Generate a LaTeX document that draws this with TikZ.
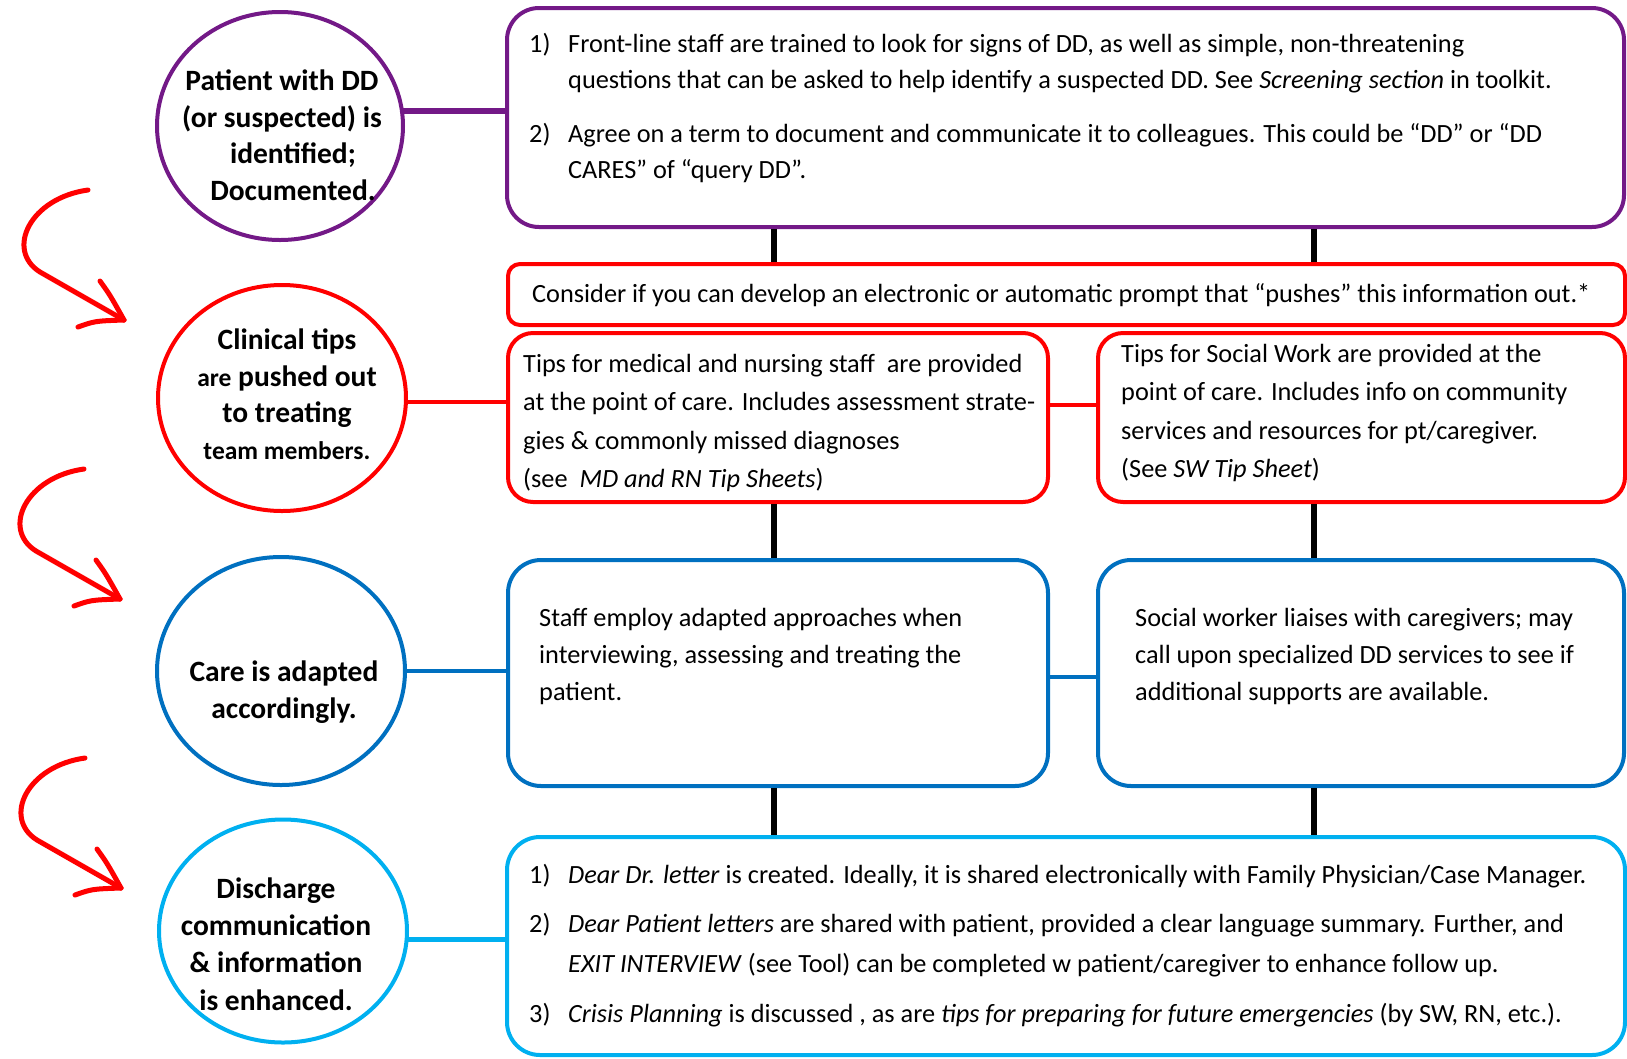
\documentclass[tikz,border=0pt]{standalone}
\usepackage{fontspec}
\setmainfont{Carlito}
\usetikzlibrary{shapes.geometric}
\definecolor{dpurple}{RGB}{115,25,135}
\definecolor{dblue}{RGB}{0,112,192}
\definecolor{lblue}{RGB}{0,176,240}
\definecolor{mred}{RGB}{255,0,0}
\begin{document}
\begin{tikzpicture}[x=1pt,y=-1pt,
  box/.style={draw, inner sep=0pt, outer sep=0pt, anchor=north west, line width=4pt},
  ell/.style={ellipse, draw, inner sep=0pt, outer sep=0pt, line width=4pt},
  ctext/.style={align=center, font=\bfseries\fontsize{29.5}{36.5}\selectfont, inner sep=0pt, text=black},
  body/.style={font=\fontsize{26.3}{36}\selectfont, align=left, anchor=base west, inner sep=0pt, text=black},
  vline/.style={draw=black, line width=6pt, shorten <=2pt, shorten >=2pt},
  hand/.style={draw=mred, line width=5pt, line cap=round, line join=round}
]
\useasboundingbox (0,0) rectangle (1627,1058);

% left ellipses
\node[ell, draw=dpurple, minimum width=246pt, minimum height=228pt] (c1) at (280,126) {};
\node[ell, draw=mred, minimum width=248pt, minimum height=226pt] (c2) at (282,398) {};
\node[ell, draw=dblue, minimum width=248pt, minimum height=228pt] (c3) at (281,671) {};
\node[ell, draw=lblue, minimum width=248pt, minimum height=223pt] (c4) at (283,931) {};

\node[ctext] (t1) at (282,135) {Patient with DD\\(or suspected) is\\\hspace*{22pt}identified;\\\hspace*{22pt}Documented.};
\node[ctext] (t2) at (287,394) {Clinical tips\\{\fontsize{25.5}{36.5}\selectfont are} pushed out\\to treating\\{\fontsize{25.5}{36.5}\selectfont team members.}};
\node[ctext] (t3) at (284,692) {Care is adapted\\accordingly.};
\node[ctext, font=\bfseries\fontsize{29.5}{37.3}\selectfont] (t4) at (276,944) {Discharge\\communication\\\& information\\is enhanced.};

% boxes
\node[box, draw=dpurple, rounded corners=32pt, minimum width=1117pt, minimum height=219pt] (b1) at (507,8) {};
\node[box, draw=mred, rounded corners=12pt, minimum width=1117pt, minimum height=61pt] (b2) at (508,264) {};
\node[box, draw=mred, rounded corners=25pt, minimum width=540pt, minimum height=169pt] (b3) at (508,333) {};
\node[box, draw=mred, rounded corners=25pt, minimum width=527pt, minimum height=169pt] (b4) at (1098,333) {};
\node[box, draw=dblue, rounded corners=33pt, minimum width=540pt, minimum height=226pt] (b5) at (508,560) {};
\node[box, draw=dblue, rounded corners=33pt, minimum width=526pt, minimum height=226pt] (b6) at (1098,560) {};
\node[box, draw=lblue, rounded corners=33pt, minimum width=1118pt, minimum height=218pt] (b7) at (507,837) {};

% texts (multi-line nodes: base = last line's baseline)
\node[body] (p1n) at (529,52) {1)};
\node[body] (p1) at (568,88) {Front-line staff are trained to look for signs of DD, as well as simple, non-threatening\\questions that can be asked to help identify a suspected DD. See \textit{Screening section} in toolkit.};
\node[body] (p2n) at (529,142) {2)};
\node[body] (p2) at (568,178) {Agree on a term to document and communicate it to colleagues. This could be “DD” or “DD\\CARES” of “query DD”.};

\node[body] (r0) at (532,302) {Consider if you can develop an electronic or automatic prompt that “pushes” this information out.*};
\node[body, font=\fontsize{26.3}{38.3}\selectfont] (r1) at (523,487.5) {Tips for medical and nursing staff \ are provided\\at the point of care. Includes assessment strate-\\gies \& commonly missed diagnoses\\(see \ \textit{MD and RN Tip Sheets})};
\node[body, font=\fontsize{26.3}{38.3}\selectfont] (r2) at (1121,477.5) {Tips for Social Work are provided at the\\point of care. Includes info on community\\services and resources for pt/caregiver.\\(See \textit{SW Tip Sheet})};

\node[body, font=\fontsize{26.3}{37}\selectfont] (s1) at (539,700) {Staff employ adapted approaches when\\interviewing, assessing and treating the\\patient.};
\node[body, font=\fontsize{26.3}{37}\selectfont] (s2) at (1135,700) {Social worker liaises with caregivers; may\\call upon specialized DD services to see if\\additional supports are available.};

\node[body] (d1n) at (529,883) {1)};
\node[body] (d1) at (568,883) {\textit{Dear Dr. letter} is created. Ideally, it is shared electronically with Family Physician/Case Manager.};
\node[body] (d2n) at (529,932) {2)};
\node[body, font=\fontsize{26.3}{40}\selectfont] (d2) at (568,972) {\textit{Dear Patient letters} are shared with patient, provided a clear language summary. Further, and\\\textit{EXIT INTERVIEW} (see Tool) can be completed w patient/caregiver to enhance follow up.};
\node[body] (d3n) at (529,1022) {3)};
\node[body] (d3) at (568,1022) {\textit{Crisis Planning} is discussed , as are \textit{tips for preparing for future emergencies} (by SW, RN, etc.).};

% connectors
\coordinate (vx1) at (774,0);
\coordinate (vx2) at (1314,0);
\coordinate (ry) at (0,405);
\coordinate (by) at (0,677);
\draw[dpurple, line width=6pt] (c1.7) -- (c1.7 -| b1.west);
\draw[mred, line width=4pt] (c2.-2.3) -- (c2.-2.3 -| b3.west);
\draw[mred, line width=4pt] (b3.east |- ry) -- (b4.west |- ry);
\draw[dblue, line width=4pt] (c3.east) -- (c3.east -| b5.west);
\draw[dblue, line width=4pt] (b5.east |- by) -- (b6.west |- by);
\draw[lblue, line width=5pt] (c4.-4.6) -- (c4.-4.6 -| b7.west);
\draw[vline] (b1.south -| vx1) -- (b2.north -| vx1);
\draw[vline] (b1.south -| vx2) -- (b2.north -| vx2);
\draw[vline] (b3.south -| vx1) -- (b5.north -| vx1);
\draw[vline] (b4.south -| vx2) -- (b6.north -| vx2);
\draw[vline] (b5.south -| vx1) -- (b7.north -| vx1);
\draw[vline] (b6.south -| vx2) -- (b7.north -| vx2);

% hand-drawn red arrows
\foreach \dx/\dy in {0/0, -4/279, -3/568}{
  \begin{scope}[shift={(\dx,\dy)}]
    \draw[hand] (88,190) .. controls (30,198) and (5,250) .. (40,272) -- (124,320);
    \draw[hand] (100,281) .. controls (110,295) .. (124,320);
    \draw[hand] (78,327) .. controls (95,321) .. (124,320);
  \end{scope}
}
\end{tikzpicture}
\end{document}
